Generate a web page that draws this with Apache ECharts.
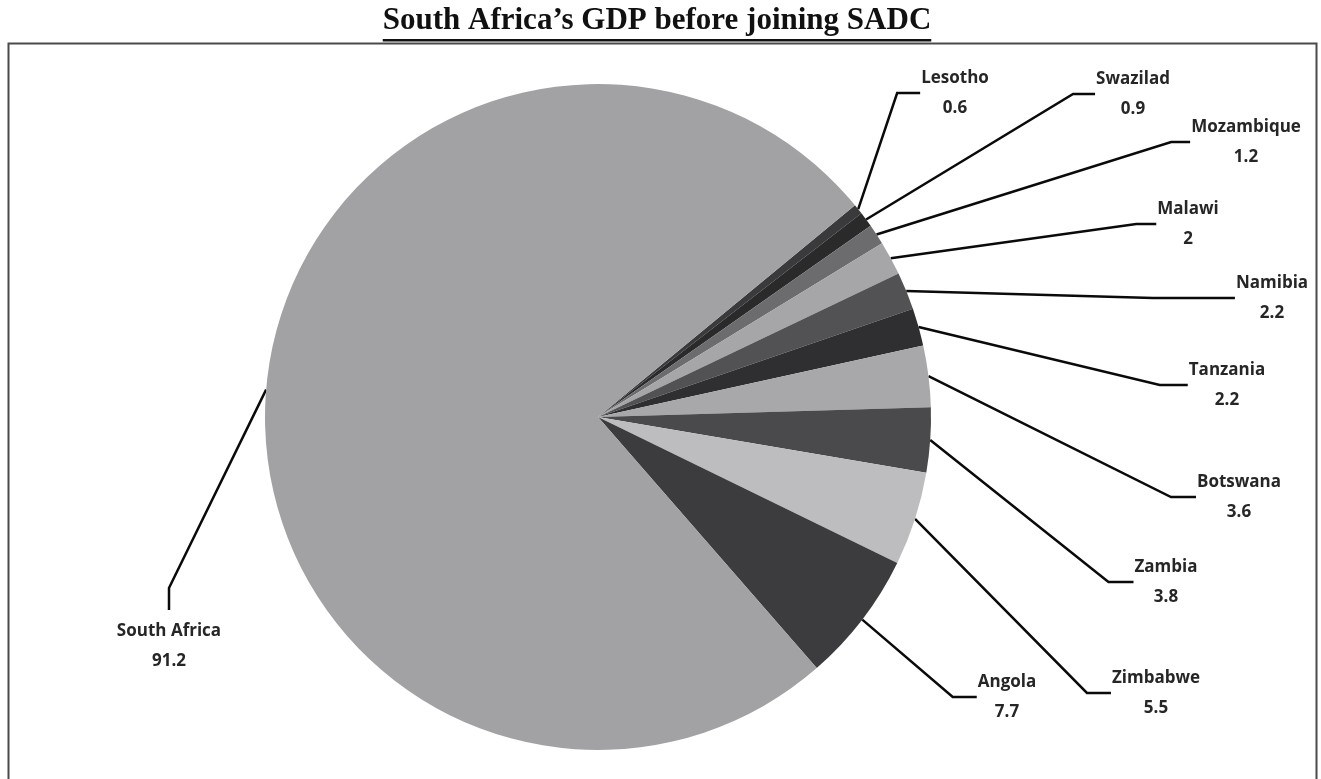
<!DOCTYPE html>
<html>
<head>
<meta charset="utf-8">
<script src="https://cdn.jsdelivr.net/npm/echarts@6/dist/echarts.min.js"></script>
<style>
html,body{margin:0;padding:0;background:#fff;}
#main{width:1321px;height:779px;}
</style>
</head>
<body>
<div id="main"></div>
<script>
// ---- data ----
const titleText = 'South Africa\u2019s GDP before joining SADC';
const countries = ['Lesotho', 'Swazilad', 'Mozambique', 'Malawi', 'Namibia', 'Tanzania', 'Botswana', 'Zambia', 'Zimbabwe', 'Angola', 'South Africa'];
const gdpValues = [0.6, 0.9, 1.2, 2, 2.2, 2.2, 3.6, 3.8, 5.5, 7.7, 91.2];

// ---- styles / layout (kept separate from data) ----
const sliceColors = ['#3a3a3c', '#2a2a2a', '#6c6c6e', '#a6a6a8', '#525254', '#2f2f31', '#a8a8aa', '#4a4a4c', '#bdbdbf', '#3c3c3e', '#a2a2a5'];
// label block centre x, centre y, leader elbow length, mode ('side' = joins left edge, 'top' = joins top centre)
const labelLayoutTable = [
  [955, 93, 23, 'side'],
  [1133, 94, 22, 'side'],
  [1246, 142, 19, 'side'],
  [1188, 224, 20, 'side'],
  [1272, 298, 82, 'side'],
  [1227, 385, 28, 'side'],
  [1239, 497, 25, 'side'],
  [1166, 582, 25, 'side'],
  [1156, 693, 24, 'side'],
  [1007, 697, 24, 'side'],
  [169, 646, 22, 'top']
];
const pieCenter = [598, 417];
const pieRadius = 333;
const pieStart = 39.5;

const chart = echarts.init(document.getElementById('main'), null, {renderer: 'canvas'});

// measure title width for underline
const mc = document.createElement('canvas').getContext('2d');
const titleFont = 'bold 31px "Liberation Serif"';
mc.font = titleFont;
const titleW = mc.measureText(titleText).width;
const titleCx = 657;

const total = gdpValues.reduce((a, b) => a + b, 0);
function midPoint(idx) {
  let cum = 0;
  for (let i = 0; i < idx; i++) cum += gdpValues[i];
  const midDeg = pieStart - (cum + gdpValues[idx] / 2) / total * 360;
  const r = midDeg * Math.PI / 180;
  return [pieCenter[0] + pieRadius * Math.cos(r), pieCenter[1] - pieRadius * Math.sin(r)];
}

const option = {
  backgroundColor: '#ffffff',
  animation: false,
  graphic: [
    {
      type: 'rect',
      shape: {x: 8.5, y: 43.5, width: 1308, height: 780},
      style: {fill: 'none', stroke: '#4a4a4a', lineWidth: 2},
      silent: true, z: 0
    },
    {
      type: 'text',
      x: titleCx, y: 36,
      style: {text: titleText, font: titleFont, fill: '#111', align: 'center', verticalAlign: 'bottom'},
      silent: true, z: 10
    },
    {
      type: 'rect',
      shape: {x: titleCx - titleW / 2, y: 39, width: titleW, height: 2.5},
      style: {fill: '#111'},
      silent: true, z: 10
    }
  ],
  series: [{
    type: 'pie',
    center: pieCenter,
    radius: pieRadius,
    startAngle: pieStart,
    clockwise: true,
    avoidLabelOverlap: false,
    data: countries.map((n, i) => ({name: n, value: gdpValues[i], itemStyle: {color: sliceColors[i]}})),
    itemStyle: {borderWidth: 0},
    emphasis: {disabled: true},
    label: {
      show: true,
      position: 'outside',
      formatter: '{b}\n{c}',
      fontFamily: '"Open Sans", sans-serif',
      fontWeight: 'bold',
      fontSize: 17,
      lineHeight: 30,
      color: '#262626',
      align: 'center'
    },
    labelLine: {
      show: true,
      length: 10,
      length2: 10,
      lineStyle: {color: '#0a0a0a', width: 2.5}
    },
    labelLayout: function (params) {
      const i = params.dataIndex;
      const L = labelLayoutTable[i];
      const w = params.labelRect.width;
      const h = params.labelRect.height;
      const start = midPoint(i);
      let end, elbow;
      if (L[3] === 'top') {
        end = [L[0], L[1] - h / 2 - 6];
        elbow = [L[0], end[1] - L[2]];
      } else {
        end = [L[0] - w / 2 - 1, L[1]];
        elbow = [end[0] - L[2], L[1]];
      }
      return {
        x: L[0], y: L[1],
        align: 'center', verticalAlign: 'middle',
        labelLinePoints: [start, elbow, end]
      };
    }
  }]
};
chart.setOption(option);
</script>
</body>
</html>
